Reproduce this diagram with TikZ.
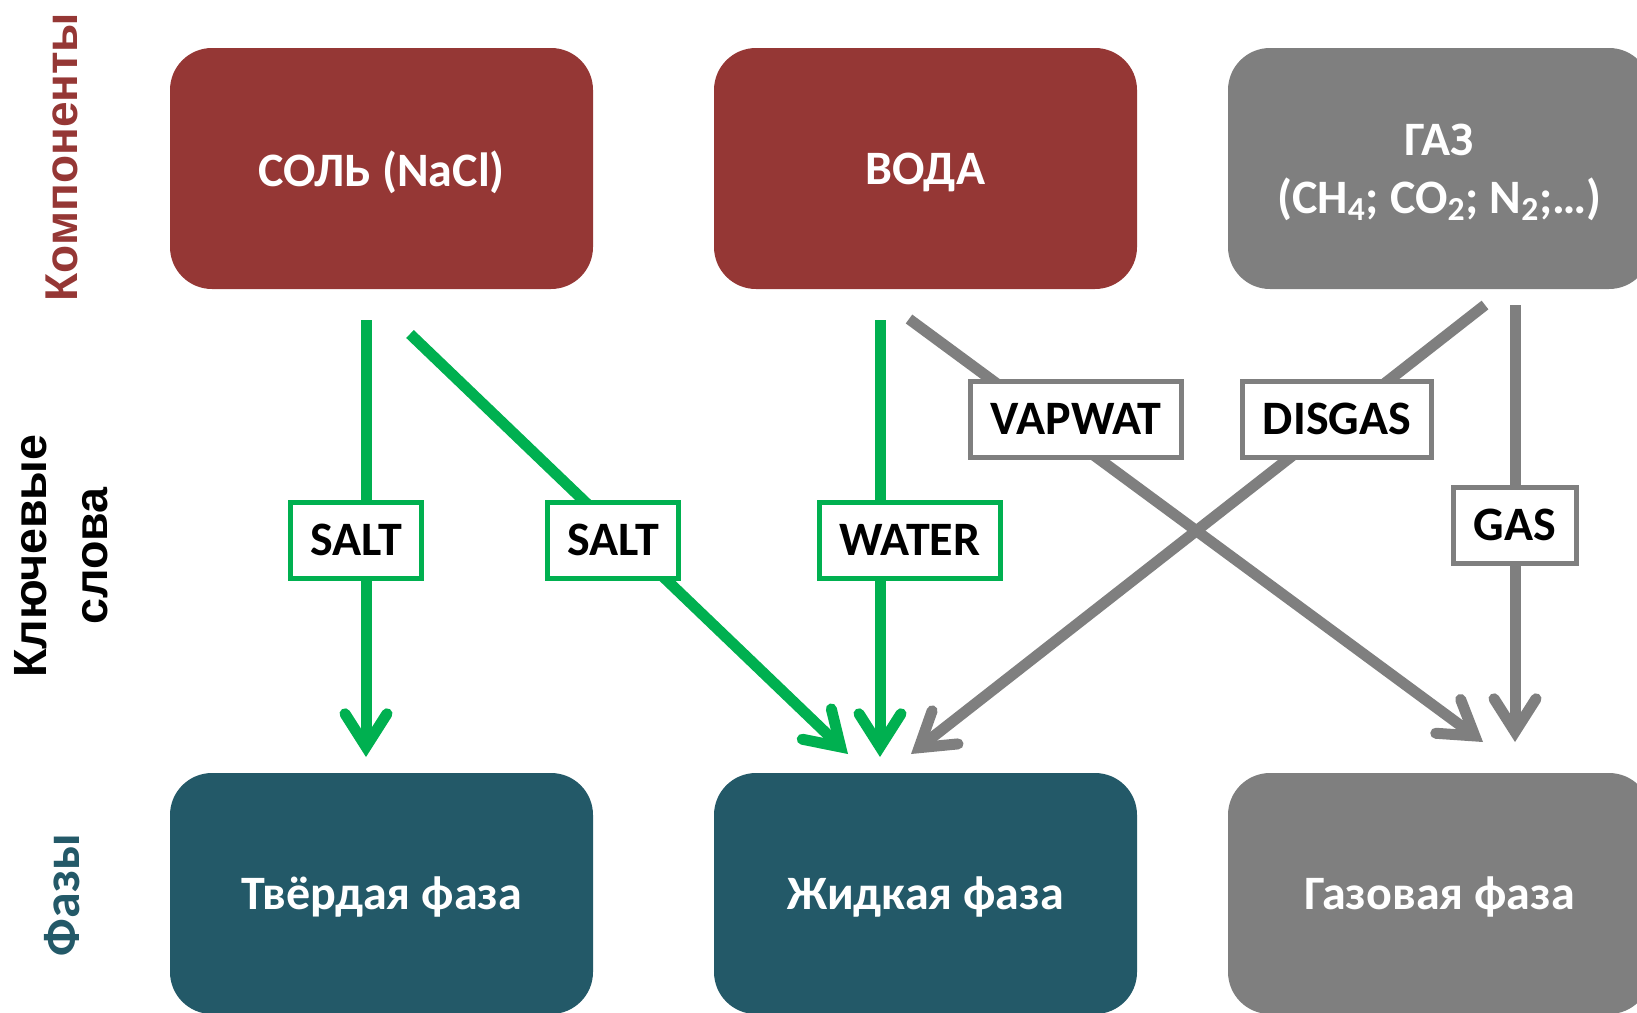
\documentclass[tikz,border=0pt]{standalone}
\usepackage{fontspec}
\setmainfont{Carlito}
\newfontfamily\arialfont{Liberation Sans}
\usetikzlibrary{arrows.meta}

\definecolor{komp}{HTML}{953735}
\definecolor{faza}{HTML}{235968}
\definecolor{seryj}{HTML}{7F7F7F}
\definecolor{zel}{HTML}{00B050}

\tikzset{
  blok/.style={rectangle, rounded corners=21pt, minimum width=211.5pt, minimum height=120.5pt,
    text=white, align=center, text depth=0pt, font=\bfseries\fontsize{24pt}{29pt}\selectfont},
  klyuch/.style={rectangle, draw=#1, line width=2.5pt, fill=white, minimum height=38pt,
    inner xsep=10pt, font=\bfseries\fontsize{24pt}{28pt}\selectfont},
  strelka/.style={draw=#1, line width=5.5pt,
    -{Straight Barb[length=16.5pt, width=21pt, line cap=round, line join=miter]}},
}

\begin{document}
\begin{tikzpicture}[x=0.5pt, y=-0.5pt]
        \useasboundingbox (0,0) rectangle (1637,1012);
        \clip (0,0) rectangle (1637,1012);

        % Компоненты
        \node[blok, fill=komp] (sol) at (381.5,168.5) {СОЛЬ (NaCl)};
        \node[blok, fill=komp] (voda) at (925.5,168.5) {ВОДА};
        \node[blok, fill=seryj] (gaz) at (1439.5,168.5) {ГАЗ\\(CH\textsubscript{4}; CO\textsubscript{2}; N\textsubscript{2};…)};

        % Фазы
        \node[blok, fill=faza] (tv) at (381.5,893.5) {Твёрдая фаза};
        \node[blok, fill=faza] (zh) at (925.5,893.5) {Жидкая фаза};
        \node[blok, fill=seryj] (gf) at (1439.5,893.5) {Газовая фаза};

        % Подписи слева
        \node[rotate=90, text=komp, font=\arialfont\bfseries\fontsize{23pt}{27pt}\selectfont] (lkomp) at (62,157) {Компоненты};
        \node[rotate=90, align=center, font=\arialfont\bfseries\fontsize{23.3pt}{30.5pt}\selectfont] (lkl) at (61,556) {Ключевые\\слова};
        \node[rotate=90, text=faza, font=\bfseries\fontsize{26pt}{30pt}\selectfont] (lfaz) at (62,895) {Фазы};

        % Концы стрелок
        \coordinate (a1) at (366,320);  \coordinate (b1) at (366,757);   % соль -> твёрдая
        \coordinate (a2) at (410,334);  \coordinate (b2) at (848,754);   % соль -> жидкая
        \coordinate (a3) at (880,320);  \coordinate (b3) at (880,757);   % вода -> жидкая
        \coordinate (a4) at (909,319);  \coordinate (b4) at (1483,742);  % вода -> газовая
        \coordinate (a5) at (1485,305); \coordinate (b5) at (911,754);   % газ -> жидкая
        \coordinate (a6) at (1515,305); \coordinate (b6) at (1515,742);  % газ -> газовая

        % Стрелки
        \draw[strelka=zel] (a1) -- (b1);
        \draw[strelka=zel] (a2) -- (b2);
        \draw[strelka=zel] (a3) -- (b3);
        \draw[strelka=seryj] (a4) -- (b4);
        \draw[strelka=seryj] (a5) -- (b5);
        \draw[strelka=seryj] (a6) -- (b6);

        % Ключевые слова (поверх стрелок)
        \node[klyuch=zel] (salt1) at (356,540) {SALT};
        \node[klyuch=zel] (salt2) at (613,540) {SALT};
        \node[klyuch=zel] (water) at (910,540) {WATER};
        \node[klyuch=seryj] (vapwat) at (1076,419) {VAPWAT};
        \node[klyuch=seryj] (disgas) at (1337,419) {DISGAS};
        \node[klyuch=seryj] (gas) at (1515,525) {GAS};

\end{tikzpicture}
\end{document}
